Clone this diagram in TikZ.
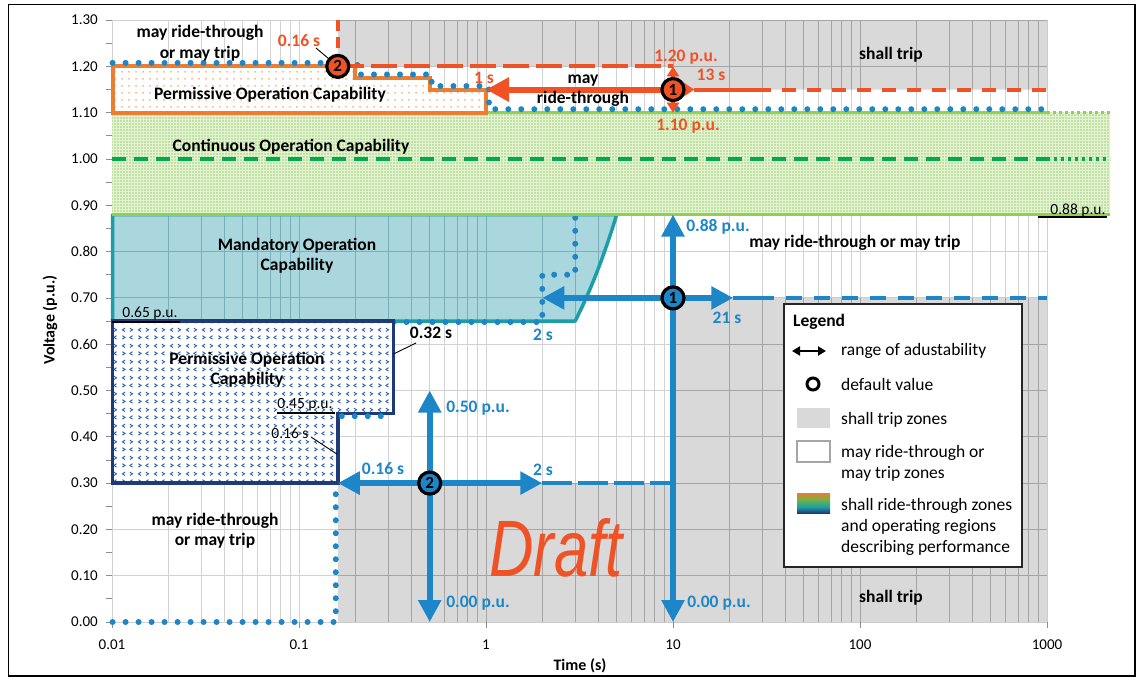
\documentclass[tikz,border=0pt]{standalone}
\usepackage{fontspec}
\setmainfont{Carlito}
\newfontfamily\draftfont{Liberation Sans}
\usetikzlibrary{arrows.meta,patterns}

\definecolor{tripgray}{RGB}{217,217,217}
\definecolor{gridlight}{RGB}{210,210,210}
\definecolor{griddark}{RGB}{165,165,165}
\definecolor{redc}{RGB}{240,82,38}
\definecolor{orangec}{RGB}{237,125,49}
\definecolor{bluec}{RGB}{28,134,200}
\definecolor{tealfill}{RGB}{170,214,222}
\definecolor{tealline}{RGB}{28,158,168}
\definecolor{tealgrid}{RGB}{120,175,186}
\definecolor{navyc}{RGB}{32,58,120}
\definecolor{patblue}{RGB}{50,100,175}
\definecolor{greenline}{RGB}{146,208,80}
\definecolor{greendash}{RGB}{0,170,80}
\definecolor{greendot}{RGB}{150,206,100}
\definecolor{greenbg}{RGB}{228,242,212}
\definecolor{axisgray}{RGB}{140,140,140}
\definecolor{leggreen}{RGB}{110,180,70}

\pgfdeclarepatternformonly{odots}{\pgfqpoint{0pt}{0pt}}{\pgfqpoint{7pt}{7pt}}{\pgfqpoint{7pt}{7pt}}{%
  \pgfpathcircle{\pgfqpoint{3.5pt}{3.5pt}}{0.9pt}\pgfusepath{fill}}
\pgfdeclarepatternformonly{gdots}{\pgfqpoint{0pt}{0pt}}{\pgfqpoint{3pt}{3pt}}{\pgfqpoint{3pt}{3pt}}{%
  \pgfpathrectangle{\pgfqpoint{0.5pt}{0.5pt}}{\pgfqpoint{1.6pt}{1.6pt}}\pgfusepath{fill}}
\pgfdeclarepatternformonly{chevrons}{\pgfqpoint{0pt}{0pt}}{\pgfqpoint{16pt}{16pt}}{\pgfqpoint{16pt}{16pt}}{%
  \pgfsetlinewidth{1pt}%
  \pgfpathmoveto{\pgfqpoint{2pt}{10pt}}\pgfpathlineto{\pgfqpoint{4.8pt}{11.8pt}}\pgfpathlineto{\pgfqpoint{2pt}{13.6pt}}%
  \pgfpathmoveto{\pgfqpoint{13.8pt}{10pt}}\pgfpathlineto{\pgfqpoint{11pt}{11.8pt}}\pgfpathlineto{\pgfqpoint{13.8pt}{13.6pt}}%
  \pgfpathmoveto{\pgfqpoint{4.8pt}{2pt}}\pgfpathlineto{\pgfqpoint{2pt}{3.8pt}}\pgfpathlineto{\pgfqpoint{4.8pt}{5.6pt}}%
  \pgfpathmoveto{\pgfqpoint{11pt}{2pt}}\pgfpathlineto{\pgfqpoint{13.8pt}{3.8pt}}\pgfpathlineto{\pgfqpoint{11pt}{5.6pt}}%
  \pgfusepath{stroke}}
\pgfdeclareverticalshading{legendgrad}{100bp}{color(0bp)=(navyc); color(25bp)=(navyc); color(40bp)=(tealline); color(58bp)=(leggreen); color(75bp)=(orangec); color(100bp)=(orangec)}

\newcommand\plotgrid{%
  \foreach \d in {0,...,4}{\foreach \k in {1,...,9}{\draw ({112+187*(\d+ln(\k)/ln(10))},20.1) -- ({112+187*(\d+ln(\k)/ln(10))},622);}}%
  \draw (1047,20.1) -- (1047,622);%
  \foreach \i in {0,...,13}{\draw (112,{622-46.3*\i}) -- (1047,{622-46.3*\i});}%
}

\begin{document}
\begin{tikzpicture}[x=1pt,y=-1pt,
  declare function={X(\q)=112+187*(ln(\q)/ln(10)+2); Y(\w)=622-463*\w;},
  lbl/.style={font=\bfseries\fontsize{17.5}{20.5}\selectfont, inner sep=0pt, align=center},
  nlbl/.style={font=\fontsize{15.5}{18}\selectfont, inner sep=0pt},
  ticklbl/.style={font=\fontsize{15}{18}\selectfont, inner sep=0pt},
  leglbl/.style={font=\fontsize{17.5}{20.7}\selectfont, inner sep=0pt, anchor=west, align=left},
  redlbl/.style={lbl, text=redc},
  bluelbl/.style={lbl, text=bluec},
  marker/.style={circle, draw=black, line width=3.2pt, minimum size=22pt, inner sep=0pt, font=\bfseries\fontsize{17}{17}\selectfont},
  bigarrow/.style={line width=6pt, {Triangle[length=22pt,width=22pt]}-{Triangle[length=22pt,width=22pt]}},
  bluedots/.style={bluec, line width=6pt, line cap=round, dash pattern=on 0pt off 13pt},
  leader/.style={black, line width=0.9pt},
]
\useasboundingbox (0,0) rectangle (1140,677);
\fill[white] (0,0) rectangle (1140,677);
\draw[black, line width=1.2pt] (8.6,4.6) rectangle (1135,676);

% grid
\begin{scope}[gridlight, line width=0.9pt] \plotgrid \end{scope}
% shall trip zones
\fill[tripgray]
  ({X(0.16)},{Y(1.3)}) -- (1047,{Y(1.3)}) -- (1047,{Y(1.15)}) -- ({X(10)},{Y(1.15)}) -- ({X(10)},{Y(1.2)}) -- ({X(0.16)},{Y(1.2)}) -- cycle
  ({X(0.16)},{Y(0)}) -- ({X(0.16)},{Y(0.3)}) -- ({X(10)},{Y(0.3)}) -- ({X(10)},{Y(0.7)}) -- (1047,{Y(0.7)}) -- (1047,{Y(0)}) -- cycle;
\begin{scope}
  \clip ({X(0.16)},{Y(1.3)}) -- (1047,{Y(1.3)}) -- (1047,{Y(1.15)}) -- ({X(10)},{Y(1.15)}) -- ({X(10)},{Y(1.2)}) -- ({X(0.16)},{Y(1.2)}) -- cycle
  ({X(0.16)},{Y(0)}) -- ({X(0.16)},{Y(0.3)}) -- ({X(10)},{Y(0.3)}) -- ({X(10)},{Y(0.7)}) -- (1047,{Y(0.7)}) -- (1047,{Y(0)}) -- cycle;
  \begin{scope}[griddark, line width=0.9pt] \plotgrid \end{scope}
\end{scope}

% axis ticks and labels
\foreach \i in {0,...,26}{\draw[axisgray, line width=0.8pt] (106,{622-23.15*\i}) -- (112,{622-23.15*\i});}
\foreach \d in {0,...,5}{\draw[axisgray, line width=0.8pt] ({112+187*\d},622) -- ({112+187*\d},628);}
\foreach \i/\t in {0/0.00,1/0.10,2/0.20,3/0.30,4/0.40,5/0.50,6/0.60,7/0.70,8/0.80,9/0.90,10/1.00,11/1.10,12/1.20,13/1.30}{
  \node[ticklbl, anchor=east] (yl\i) at (98,{622-46.3*\i}) {\t};}
\foreach \d/\t in {0/0.01,1/0.1,2/1,3/10,4/100,5/1000}{
  \node[ticklbl] (xl\d) at ({112+187*\d},645) {\t};}
\node[font=\bfseries\fontsize{16}{18}\selectfont, rotate=90, inner sep=0pt] (ylab) at (50,320) {Voltage (p.u.)};
\node[font=\bfseries\fontsize{16}{18}\selectfont, inner sep=0pt] (xlab) at (580,666) {Time (s)};

% mandatory operation region (teal)
\fill[tealfill] ({X(0.01)},{Y(0.88)}) -- ({X(0.01)},{Y(0.65)}) -- ({X(3)},{Y(0.65)}) -- plot[domain=0.65:0.88, samples=8] ({X(3+8.7*(\x-0.65))},{Y(\x)}) -- cycle;
\begin{scope}
  \clip ({X(0.01)},{Y(0.88)}) -- ({X(0.01)},{Y(0.65)}) -- ({X(3)},{Y(0.65)}) -- plot[domain=0.65:0.88, samples=8] ({X(3+8.7*(\x-0.65))},{Y(\x)}) -- cycle;
  \begin{scope}[tealgrid, line width=0.9pt] \plotgrid \end{scope}
\end{scope}
\draw[tealline, line width=3.5pt, line join=round] ({X(0.01)},{Y(0.88)}) -- ({X(0.01)},{Y(0.65)}) -- ({X(3)},{Y(0.65)}) -- plot[domain=0.65:0.88, samples=8] ({X(3+8.7*(\x-0.65))},{Y(\x)}) -- cycle;

% blue dotted ride-through boundary inside mandatory region
\draw[bluedots] ({X(0.32)},{Y(0.65)+1}) -- ({X(2)},{Y(0.65)+1}) -- ({X(2)},{Y(0.75)}) -- ({X(3)},{Y(0.75)}) -- ({X(3)},{Y(0.88)});

% permissive operation region (low voltage)
\draw[navyc, line width=3.5pt, preaction={fill=white}, pattern=chevrons, pattern color=patblue]
  ({X(0.01)},{Y(0.65)}) -- ({X(0.32)},{Y(0.65)}) -- ({X(0.32)},{Y(0.45)}) -- ({X(0.16)},{Y(0.45)}) -- ({X(0.16)},{Y(0.3)}) -- ({X(0.01)},{Y(0.3)}) -- cycle;
\draw[bluedots] ({X(0.01)},{Y(0)}) -- ({X(0.16)-2},{Y(0)}) -- ({X(0.16)-2},{Y(0.3)+4});
\draw[bluedots] ({X(0.16)+4},{Y(0.45)+2.5}) -- ({X(0.32)},{Y(0.45)+2.5});

% continuous operation region
\path[preaction={fill=greenbg}, pattern=gdots, pattern color=greendot] (112,{Y(1.1)}) rectangle (1110,{Y(0.88)});
\draw[greenline, line width=3.5pt] (112,{Y(1.1)}) -- (1047,{Y(1.1)});
\draw[greenline, line width=3.5pt, dash pattern=on 3pt off 3pt] (1047,{Y(1.1)}) -- (1110,{Y(1.1)});
\draw[greendash, line width=4pt, dash pattern=on 14pt off 8pt] (112,{Y(1)}) -- (1047,{Y(1)});
\draw[greendash, line width=4pt, dash pattern=on 3pt off 4pt] (1047,{Y(1)}) -- (1110,{Y(1)});
\draw[greenline, line width=3.5pt] (112,{Y(0.88)}) -- (1110,{Y(0.88)});

% permissive operation region (high voltage)
\draw[orangec, line width=4pt, preaction={fill=white}, pattern=odots, pattern color=orangec]
  ({X(0.01)},{Y(1.1)}) -- ({X(0.01)},{Y(1.2)}) -- ({X(0.2)},{Y(1.2)}) -- ({X(0.2)},{Y(1.175)}) -- ({X(0.5)},{Y(1.175)}) -- ({X(0.5)},{Y(1.15)}) -- ({X(1)},{Y(1.15)}) -- ({X(1)},{Y(1.1)}) -- cycle;
\draw[bluedots] ({X(0.01)},{Y(1.2)-3.5}) -- ({X(0.2)+2},{Y(1.2)-3.5}) -- ({X(0.2)+2},{Y(1.175)-3.5}) -- ({X(0.5)+2},{Y(1.175)-3.5}) -- ({X(0.5)+2},{Y(1.15)-3.5}) -- ({X(1)+3},{Y(1.15)-3.5}) -- ({X(1)+3},{Y(1.1)-3.5}) -- (1047,{Y(1.1)-3.5});

% ---- red (over-voltage) settings
\coordinate (r2) at ({X(0.16)},{Y(1.2)});
\coordinate (r2top) at ({X(0.16)},{Y(1.3)});
\coordinate (r1) at ({X(10)},{Y(1.15)});
\coordinate (r1up) at ({X(10)},{Y(1.2)});
\coordinate (r1dn) at ({X(10)},{Y(1.1)});
\coordinate (r1left) at ({X(1)},{Y(1.15)});
\coordinate (r1right) at ({X(13)},{Y(1.15)});
\coordinate (r1mid) at (757,{Y(1.15)});
\coordinate (r1end) at (1047,{Y(1.15)});
\draw[redc, line width=3.5pt, dash pattern=on 11pt off 6pt] (r2top) -- (r2);
\draw[redc, line width=4pt, dash pattern=on 26pt off 7pt] (r2) -- (r1up);
\draw[redc, line width=4pt] (r1right) -- (r1mid);
\draw[redc, line width=4pt, dash pattern=on 14pt off 11pt] (r1mid) -- (r1end);
\draw[redc, line width=6pt, {Triangle[length=23pt,width=23pt]}-{Triangle[length=12pt,width=15pt]}] (r1left) -- (r1right);
\draw[redc, line width=3.5pt, {Triangle[length=10pt,width=12pt]}-{Triangle[length=10pt,width=12pt]}] (r1dn) -- (r1up);
\node[marker, fill=redc] (m1r) at (r1) {1};
\node[marker, fill=redc] (m2r) at (r2) {2};

% ---- blue (under-voltage) settings
\coordinate (b1) at ({X(10)},{Y(0.7)});
\coordinate (b1top) at ({X(10)},{Y(0.88)});
\coordinate (b1bot) at ({X(10)},{Y(0)});
\coordinate (b1left) at ({X(2)},{Y(0.7)});
\coordinate (b1right) at ({X(21)},{Y(0.7)});
\coordinate (b1mid) at (758,{Y(0.7)});
\coordinate (b1end) at (1047,{Y(0.7)});
\coordinate (b2) at ({X(0.5)},{Y(0.3)});
\coordinate (b2top) at ({X(0.5)},{Y(0.5)});
\coordinate (b2bot) at ({X(0.5)},{Y(0)});
\coordinate (b2left) at ({X(0.16)},{Y(0.3)});
\coordinate (b2right) at ({X(2)},{Y(0.3)});
\coordinate (b2end) at ({X(10)},{Y(0.3)});
\draw[bluec, line width=4pt] (b1right) -- (b1mid);
\draw[bluec, line width=4pt, dash pattern=on 16pt off 12pt] (b1mid) -- (b1end);
\draw[bluec, line width=4pt, dash pattern=on 30pt off 6pt] (b2right) -- (b2end);
\draw[bluec, bigarrow] (b1bot) -- (b1top);
\draw[bluec, bigarrow] (b1left) -- (b1right);
\draw[bluec, bigarrow] (b2bot) -- (b2top);
\draw[bluec, bigarrow] (b2left) -- (b2right);
\node[marker, fill=bluec] (m1b) at (b1) {1};
\node[marker, fill=bluec] (m2b) at (b2) {2};

% ---- black labels
\node[lbl] (t1) at (200,43) {may ride-through\\or may trip};
\node[lbl] (t2) at (270,95) {Permissive Operation Capability};
\node[lbl] (t3) at (291,147) {Continuous Operation Capability};
\node[lbl] (t4) at (297,255.5) {Mandatory Operation\\Capability};
\node[lbl] (t5) at (247,369.5) {Permissive Operation\\Capability};
\node[lbl] (t6) at (215,530.5) {may ride-through\\or may trip};
\node[lbl] (t7) at (891,55) {shall trip};
\node[lbl] (t8) at (855,243) {may ride-through or may trip};
\node[lbl] (t9) at (891,598) {shall trip};
\node[lbl] (t10) at (583,90.5) {may\\ride-through};
\node[lbl] (t11) at (431,333) {0.32 s};
\coordinate (p032) at ({X(0.32)},354);
\draw[leader] (416,343) -- (p032);

% red labels
\node[redlbl] (rl1) at (299,41) {0.16 s};
\draw[leader] (316,48) -- (m2r);
\node[redlbl] (rl2) at (484,78) {1 s};
\node[redlbl] (rl3) at (686,57) {1.20 p.u.};
\node[redlbl] (rl4) at (711,75) {13 s};
\node[redlbl] (rl5) at (688,126) {1.10 p.u.};

% blue labels
\node[bluelbl] (bl1) at (718,227) {0.88 p.u.};
\node[bluelbl] (bl2) at (727,318) {21 s};
\node[bluelbl] (bl3) at (543,335) {2 s};
\node[bluelbl] (bl4) at (478,408) {0.50 p.u.};
\node[bluelbl] (bl5) at (383,469) {0.16 s};
\node[bluelbl] (bl6) at (543,470) {2 s};
\node[bluelbl] (bl7) at (478,603) {0.00 p.u.};
\node[bluelbl] (bl8) at (719,603) {0.00 p.u.};

% small black value labels
\node[nlbl] (n1) at (150,314) {0.65 p.u.};
\draw[leader, line width=1.1pt] (112,322) -- (180,322);
\node[nlbl] (n2) at (305,405) {0.45 p.u.};
\draw[leader, line width=1.1pt] (277,413) -- (335,413);
\node[nlbl] (n3) at (290,433) {0.16 s};
\coordinate (p016) at ({X(0.16)-1},454);
\draw[leader] (311,437) -- (p016);
\node[nlbl] (n4) at (1078,210) {0.88 p.u.};
\draw[leader, line width=1.1pt] (1038,217) -- (1107,217);

% Draft watermark
\node[text=redc, font=\draftfont\itshape\fontsize{80}{80}\selectfont, xscale=0.77, inner sep=0pt] (draft) at (556,548) {Draft};

% legend
\node[draw=black!85, line width=1.5pt, fill=white, minimum width=238pt, minimum height=263pt, anchor=north west, inner sep=0pt] (legend) at (783,303) {};
\node[lbl, anchor=west] (lgt) at (793,322) {Legend};
\coordinate (la1) at (792,351);
\coordinate (la2) at (826,351);
\draw[black, line width=2.2pt, {Triangle[length=8pt,width=9pt]}-{Triangle[length=8pt,width=9pt]}] (la1) -- (la2);
\node[leglbl] (lg1) at (841,351) {range of adustability};
\node[circle, draw=black, line width=3pt, minimum size=12pt, inner sep=0pt] (lgc) at (813,384) {};
\node[leglbl] (lg2) at (841,384) {default value};
\node[fill=tripgray, minimum width=33pt, minimum height=20pt, inner sep=0pt] (lgs1) at (813.5,418) {};
\node[leglbl] (lg3) at (841,420) {shall trip zones};
\node[draw=gray!70, line width=1.2pt, fill=white, minimum width=33pt, minimum height=21pt, inner sep=0pt] (lgs2) at (813.5,451.5) {};
\node[leglbl] (lg4) at (841,463.5) {may ride-through or\\may trip zones};
\shade[shading=legendgrad] (797,493) rectangle (830,513);
\node[leglbl] (lg5) at (841,527) {shall ride-through zones\\and operating regions\\describing performance};
\end{tikzpicture}
\end{document}
